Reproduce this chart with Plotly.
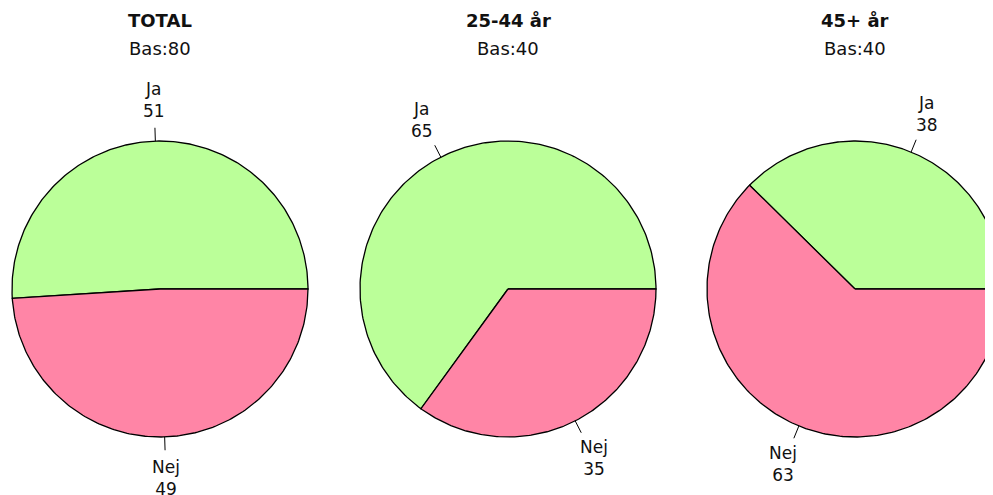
import numpy as np
import plotly.graph_objects as go

# ---- data ----
groups = ["TOTAL", "25-44 år", "45+ år"]
bases = [80, 40, 40]
categories = ["Ja", "Nej"]
ja_values = [51, 65, 38]
nej_values = [49, 35, 63]

# ---- layout / style ----
W, H = 993, 495
OFF = 8  # default page body margin
centers_x = [160, 508, 855]
center_y = 289
R = 148
colors = {"Ja": "#BBFF99", "Nej": "#FF85A6"}
FONT = "DejaVu Sans"

fig = go.Figure()
annotations = []

for gi, g in enumerate(groups):
    cx = centers_x[gi]
    vals = [ja_values[gi], nej_values[gi]]
    total = sum(vals)
    start = 0.0
    for cat, v in zip(categories, vals):
        sweep = 2 * np.pi * v / total
        a = np.linspace(start, start + sweep, 200)
        xs = np.concatenate([[cx], cx + R * np.cos(a), [cx]])
        ys = np.concatenate([[center_y], center_y - R * np.sin(a), [center_y]])
        fig.add_trace(go.Scatter(
            x=xs, y=ys, mode="lines", fill="toself",
            fillcolor=colors[cat], line=dict(color="black", width=1.3),
            hoverinfo="skip", showlegend=False))
        mid = start + sweep / 2
        # leader line
        fig.add_trace(go.Scatter(
            x=[cx + R * np.cos(mid), cx + R * 1.09 * np.cos(mid)],
            y=[center_y - R * np.sin(mid), center_y - R * 1.09 * np.sin(mid)],
            mode="lines", line=dict(color="black", width=1),
            hoverinfo="skip", showlegend=False))
        annotations.append(dict(
            x=cx + R * 1.28 * np.cos(mid), y=center_y - R * 1.28 * np.sin(mid),
            text=f"{cat}<br>{v}", showarrow=False, xref="x", yref="y",
            font=dict(family=FONT, size=17, color="#111111"),
            xanchor="center", yanchor="middle"))
        start += sweep
    annotations.append(dict(
        x=cx, y=20, text=f"<b>{g}</b>", showarrow=False, xref="x", yref="y",
        font=dict(family=FONT, size=18, color="#111111"),
        xanchor="center", yanchor="middle"))
    annotations.append(dict(
        x=cx, y=48, text=f"Bas:{bases[gi]}", showarrow=False, xref="x", yref="y",
        font=dict(family=FONT, size=18, color="#111111"),
        xanchor="center", yanchor="middle"))

fig.update_layout(
    width=W - OFF, height=H - OFF,
    margin=dict(l=0, r=0, t=0, b=0),
    paper_bgcolor="white", plot_bgcolor="white",
    xaxis=dict(range=[OFF, W], visible=False, fixedrange=True),
    yaxis=dict(range=[H, OFF], visible=False, fixedrange=True),
    annotations=annotations,
    showlegend=False,
)

fig.write_html("out.html")
